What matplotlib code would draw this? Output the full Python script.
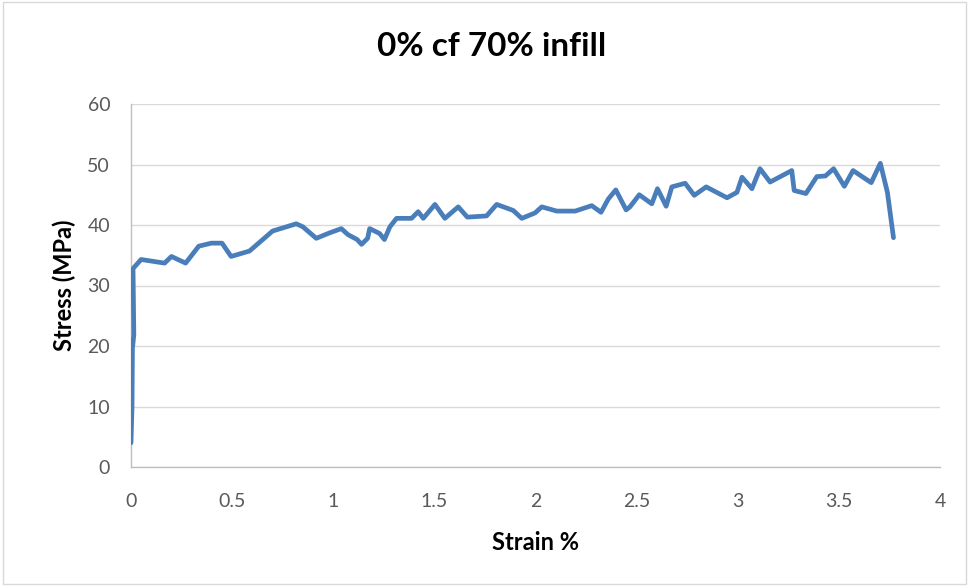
import matplotlib
matplotlib.use("Agg")
import matplotlib.pyplot as plt

plt.rcParams['font.family'] = ['Lato', 'DejaVu Sans']

# Stress-strain data
strain = [0.0, 0.005, 0.007, 0.014, 0.01, 0.05, 0.166, 0.2, 0.27, 0.335, 0.397, 0.45,
          0.495, 0.586, 0.70, 0.817, 0.85, 0.916, 0.982, 1.04, 1.073, 1.118, 1.14,
          1.17, 1.18, 1.229, 1.253, 1.28, 1.313, 1.387, 1.42, 1.445, 1.503, 1.552,
          1.618, 1.663, 1.758, 1.808, 1.89, 1.932, 1.998, 2.031, 2.105, 2.196,
          2.278, 2.324, 2.36, 2.397, 2.448, 2.467, 2.513, 2.575, 2.603, 2.646,
          2.674, 2.74, 2.785, 2.844, 2.947, 2.996, 3.021, 3.042, 3.07, 3.11, 3.16,
          3.267, 3.279, 3.337, 3.391, 3.433, 3.474, 3.527, 3.57, 3.66, 3.705,
          3.74, 3.77]
stress = [4.0, 10.0, 19.6, 21.8, 32.8, 34.3, 33.7, 34.8, 33.7, 36.5, 37.0, 37.0,
          34.8, 35.7, 39.0, 40.2, 39.7, 37.8, 38.7, 39.4, 38.4, 37.6, 36.8,
          37.8, 39.4, 38.6, 37.6, 39.7, 41.1, 41.1, 42.2, 41.1, 43.4, 41.1,
          43.0, 41.3, 41.5, 43.4, 42.4, 41.1, 42.0, 43.0, 42.3, 42.3,
          43.2, 42.1, 44.3, 45.8, 42.5, 43.0, 45.0, 43.5, 46.0, 43.1,
          46.3, 46.9, 44.9, 46.3, 44.5, 45.4, 47.9, 47.1, 46.0, 49.3, 47.1,
          49.0, 45.7, 45.2, 48.0, 48.1, 49.3, 46.4, 49.0, 47.0, 50.2,
          45.4, 37.9]

xticks = [0, 0.5, 1, 1.5, 2, 2.5, 3, 3.5, 4]
xtick_labels = ['0', '0.5', '1', '1.5', '2', '2.5', '3', '3.5', '4']
yticks = [0, 10, 20, 30, 40, 50, 60]

fig = plt.figure(figsize=(9.69, 5.86), dpi=100)
ax = fig.add_axes([131 / 969, 1 - 467 / 586, 809 / 969, 363 / 586])

ax.plot(strain, stress, color='#4A7EBB', linewidth=3.4, solid_joinstyle='round',
        solid_capstyle='round', zorder=3)

ax.set_xlim(0, 4)
ax.set_ylim(0, 60)
ax.set_xticks(xticks)
ax.set_xticklabels(xtick_labels)
ax.set_yticks(yticks)
ax.yaxis.grid(True, color='#D9D9D9', linewidth=1)
ax.set_axisbelow(True)

for side in ['top', 'right']:
    ax.spines[side].set_visible(False)
for side in ['left', 'bottom']:
    ax.spines[side].set_color('#BFBFBF')
    ax.spines[side].set_linewidth(1)

ax.tick_params(axis='both', colors='#BFBFBF', labelcolor='#595959', labelsize=14, length=0)
ax.tick_params(axis='x', pad=19)
ax.tick_params(axis='y', pad=15)

ax.set_xlabel('Strain %', fontsize=17, fontweight='bold', color='black', labelpad=15)
ax.set_ylabel('Stress (MPa)', fontsize=17, fontweight='bold', color='black', labelpad=8)
fig.text(492 / 969, 1 - 47 / 586, '0% cf 70% infill', fontsize=24,
         fontweight='bold', ha='center', va='center')

# light frame around the chart area
fig.patches.append(plt.Rectangle((0.003, 0.003), 0.994, 0.994, transform=fig.transFigure,
                                 fill=False, edgecolor='#D9D9D9', linewidth=1))

fig.savefig('out.png', dpi=100)
